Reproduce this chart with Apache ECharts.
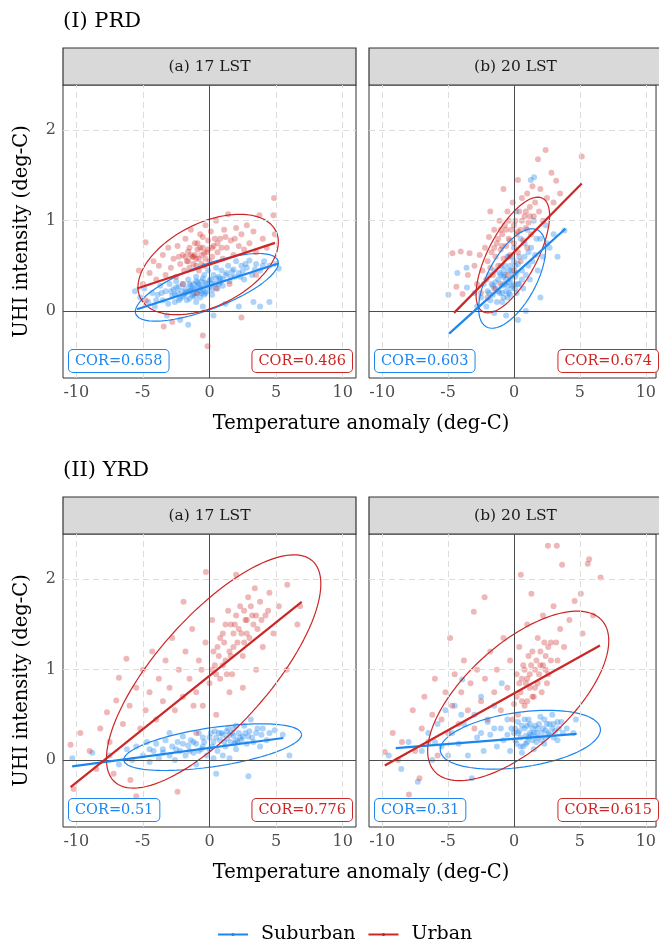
<!DOCTYPE html>
<html>
<head>
<meta charset="utf-8">
<script src="https://cdn.jsdelivr.net/npm/echarts@6/dist/echarts.min.js"></script>
<style>html,body{margin:0;padding:0;background:#fff}#chart{width:659px;height:944px}</style>
</head>
<body>
<div id="chart"></div>
<script>
// axis ticks and panel titles
const xTicks = [-10, -5, 0, 5, 10]
const yTicks = [0, 1, 2]
const sectionTitles = ['(I) PRD', '(II) YRD']
const stripTitles = ['(a) 17 LST', '(b) 20 LST']

// correlation labels [17 LST, 20 LST]
const prdCorSub = [0.658, 0.603]
const prdCorUrb = [0.486, 0.674]
const yrdCorSub = [0.51, 0.31]
const yrdCorUrb = [0.776, 0.615]

// fitted lines, [start, end]
const prd17SubFit = [[-5.44, 0.02], [5.17, 0.526]]
const prd17UrbFit = [[-5.44, 0.25], [4.92, 0.754]]
const prd20SubFit = [[-4.92, -0.25], [3.9, 0.91]]
const prd20UrbFit = [[-4.55, -0.02], [5.14, 1.41]]
const yrd17SubFit = [[-10.31, -0.07], [5.54, 0.244]]
const yrd17UrbFit = [[-10.43, -0.30], [6.92, 1.75]]
const yrd20SubFit = [[-8.97, 0.133], [4.75, 0.29]]
const yrd20UrbFit = [[-9.8, -0.06], [6.52, 1.267]]

// data ellipses: centre x, centre y, half width x, half width y, correlation
const prd17SubEll = [-0.2, 0.263, 5.37, 0.374, 0.72]
const prd17UrbEll = [-0.1, 0.515, 5.27, 0.555, 0.45]
const prd20SubEll = [-0.14, 0.36, 2.54, 0.55, 0.6]
const prd20UrbEll = [-0.09, 0.62, 2.79, 0.64, 0.68]
const yrd17SubEll = [0.24, 0.143, 6.68, 0.258, 0.54]
const yrd17UrbEll = [0.31, 0.98, 8.05, 1.29, 0.75]
const yrd20SubEll = [0.48, 0.225, 6.08, 0.325, 0.34]
const yrd20UrbEll = [0.32, 0.71, 6.87, 0.937, 0.65]

// points [temperature anomaly, UHI intensity]
const prd17Sub = [[-5.6,0.22],[-5.2,0.15],[-4.9,0.25],[-4.6,0.1],[-4.3,0.2],[-4.1,0.05],[-3.9,0.18],[-3.7,0.28],[-3.5,0.12],[-3.3,0.22],[-3.1,0.08],[-3.0,0.3],[-2.8,0.17],[-2.7,0.24],[-2.6,0.1],[-2.5,0.33],[-2.4,0.2],[-2.3,0.27],[-2.2,0.14],[-2.1,0.22],[-2.0,0.3],[-1.9,0.18],[-1.8,0.25],[-1.7,0.12],[-1.6,0.35],[-1.5,0.22],[-1.4,0.28],[-1.3,0.17],[-1.2,0.3],[-1.1,0.24],[-1.0,0.38],[-0.9,0.2],[-0.8,0.29],[-0.7,0.15],[-0.6,0.33],[-0.5,0.25],[-0.4,0.4],[-0.3,0.2],[-0.2,0.3],[-0.1,0.45],[0,0.27],[0.1,0.35],[0.2,0.18],[0.3,0.4],[0.4,0.3],[0.5,0.48],[0.6,0.25],[0.7,0.38],[0.8,0.32],[0.9,0.45],[1.0,0.28],[1.2,0.4],[1.4,0.5],[1.5,0.33],[1.7,0.44],[1.9,0.38],[2.0,0.55],[2.2,0.42],[2.4,0.5],[2.6,0.35],[2.8,0.48],[3.0,0.56],[3.2,0.4],[3.5,0.52],[3.8,0.45],[4.1,0.55],[4.5,0.5],[5.0,0.52],[5.2,0.47],[-2.2,-0.1],[-1.6,-0.15],[0.3,-0.05],[2.2,0.05],[3.8,0.05],[4.5,0.1],[3.3,0.1],[1.2,0.08],[-0.5,0.05],[-3.2,-0.05],[-1.0,0.1],[-1.8,0.2],[-1.4,0.23],[-1.2,0.19],[-0.9,0.27],[-0.7,0.22],[-0.3,0.31],[-2.5,0.26],[-1.5,0.3],[-0.6,0.2],[0.2,0.3],[0.8,0.36],[1.6,0.38],[2.5,0.44],[-2.9,0.22],[-1.0,0.33],[-2.6,0.18],[-2.3,0.12],[-2.0,0.16],[-1.7,0.21],[-1.5,0.14],[-1.3,0.25],[-1.1,0.16],[-0.9,0.32],[-0.6,0.27],[-0.4,0.18],[-0.2,0.22],[0,0.34],[0.2,0.24],[0.5,0.36],[0.7,0.3],[1.0,0.35],[1.3,0.42],[1.8,0.46],[2.3,0.38],[2.7,0.52],[3.4,0.46],[4.0,0.5],[-3.6,0.2],[-4.0,0.12],[-0.5,0.36]]
const prd17Urb = [[-5.3,0.45],[-5.0,0.3],[-4.8,0.76],[-4.5,0.42],[-4.2,0.55],[-4.0,0.35],[-3.8,0.5],[-3.5,0.62],[-3.3,0.4],[-3.1,0.7],[-2.9,0.48],[-2.7,0.58],[-2.5,0.38],[-2.4,0.72],[-2.2,0.52],[-2.0,0.62],[-1.9,0.45],[-1.8,0.8],[-1.7,0.55],[-1.6,0.66],[-1.5,0.48],[-1.4,0.9],[-1.3,0.6],[-1.2,0.52],[-1.1,0.75],[-1.0,0.58],[-0.9,0.68],[-0.8,0.45],[-0.7,0.85],[-0.6,0.62],[-0.5,0.7],[-0.4,0.5],[-0.3,0.95],[-0.2,0.65],[-0.1,0.78],[0,0.55],[0.1,0.88],[0.2,0.6],[0.3,0.72],[0.5,1.0],[0.6,0.65],[0.8,0.8],[1.0,0.58],[1.1,0.9],[1.3,0.7],[1.4,1.07],[1.6,0.78],[1.8,0.62],[2.0,0.92],[2.2,0.72],[2.4,0.85],[2.6,0.68],[2.8,0.95],[3.0,0.75],[3.3,0.88],[3.5,0.65],[3.75,1.06],[4.0,0.8],[4.3,0.7],[4.8,1.06],[4.85,1.25],[4.9,0.85],[-0.15,-0.39],[-0.5,-0.27],[-3.44,-0.17],[2.4,-0.07],[-2.8,-0.12],[-4.8,0.12],[-1.0,0.2],[0.5,0.25],[1.5,0.3],[3.5,0.4],[-2.0,0.3],[-1.6,0.55],[-1.2,0.6],[-0.8,0.58],[-1.0,0.5],[-0.6,0.52],[-1.4,0.62],[-0.3,0.58],[-0.9,0.75],[0.4,0.8],[0.9,0.7],[-1.8,0.6],[-1.5,0.7],[-1.1,0.62],[-0.7,0.7],[-0.4,0.64],[-0.1,0.68],[0.2,0.7],[0.6,0.75],[-2.3,0.6],[-0.5,0.82],[1.2,0.82],[1.9,0.8]]
const prd20Sub = [[-4.98,0.18],[-4.3,0.42],[-3.57,0.26],[-3.6,0.48],[-3.0,0.2],[-2.8,0.05],[-2.5,0.15],[-2.3,0.3],[-2.1,0.05],[-2.0,0.22],[-1.9,0.4],[-1.8,0.12],[-1.7,0.3],[-1.6,0.18],[-1.5,0.45],[-1.4,0.25],[-1.3,0.1],[-1.2,0.35],[-1.1,0.2],[-1.0,0.5],[-0.9,0.28],[-0.8,0.15],[-0.7,0.4],[-0.6,0.22],[-0.5,0.6],[-0.4,0.32],[-0.3,0.18],[-0.2,0.45],[-0.1,0.28],[0,0.7],[0.1,0.38],[0.2,0.2],[0.3,0.52],[0.4,0.3],[0.5,0.8],[0.6,0.45],[0.7,0.25],[0.8,0.6],[0.9,0.4],[1.0,0.9],[1.1,0.5],[1.2,0.35],[1.3,0.7],[1.4,0.55],[1.5,1.0],[1.6,0.62],[1.8,0.45],[2.0,0.8],[2.2,0.6],[2.4,0.95],[2.7,0.7],[3.0,0.85],[3.3,0.6],[3.82,0.89],[1.52,1.48],[1.27,1.45],[0.17,1.1],[-0.6,-0.05],[0.3,-0.1],[-1.5,-0.02],[0.9,0.0],[2.0,0.15],[-0.8,0.38],[-0.4,0.45],[-1.1,0.42],[-0.5,0.15],[-0.2,0.6],[0.0,0.3],[-0.9,0.1],[-0.3,0.35],[-0.7,0.3],[0.1,0.5],[-1.4,0.32],[-1.2,0.22],[-1.0,0.4],[-0.9,0.2],[-0.7,0.5],[-0.6,0.35],[-0.5,0.28],[-0.4,0.2],[-0.3,0.5],[-0.2,0.25],[-0.1,0.4],[0,0.55],[0.1,0.25],[0.2,0.42],[0.4,0.6],[0.6,0.35],[0.8,0.75],[1.1,0.65],[-1.6,0.28],[-1.9,0.2],[-0.8,0.45],[0.3,0.3],[-0.4,0.6],[1.7,0.8],[2.5,0.75]]
const prd20Urb = [[-4.67,0.64],[-4.04,0.66],[-3.37,0.64],[-4.37,0.27],[-3.9,0.19],[-3.5,0.4],[-3.0,0.5],[-2.8,0.3],[-2.6,0.62],[-2.4,0.45],[-2.2,0.7],[-2.1,0.35],[-2.0,0.55],[-1.9,0.82],[-1.8,0.48],[-1.7,0.65],[-1.6,0.4],[-1.5,0.9],[-1.4,0.6],[-1.3,0.75],[-1.2,0.5],[-1.1,1.0],[-1.0,0.68],[-0.9,0.85],[-0.8,0.58],[-0.7,0.95],[-0.6,0.72],[-0.5,1.1],[-0.4,0.8],[-0.3,0.62],[-0.2,0.9],[-0.1,1.2],[0,0.75],[0.1,1.0],[0.2,0.85],[0.3,0.65],[0.4,1.1],[0.5,0.9],[0.6,1.25],[0.7,0.78],[0.8,1.05],[0.9,0.92],[1.0,1.3],[1.1,0.98],[1.2,1.15],[1.3,0.85],[1.4,1.38],[1.5,1.05],[1.6,1.2],[1.82,1.68],[1.9,1.1],[2.0,1.35],[2.2,1.0],[2.4,1.78],[2.5,1.25],[2.84,1.53],[3.0,1.2],[3.2,1.44],[3.5,1.3],[5.14,1.71],[-2.5,0.2],[-1.5,0.25],[-0.5,0.4],[0.5,0.55],[-1.0,0.3],[-2.0,0.15],[0.0,0.45],[1.0,0.7],[-0.8,1.35],[-1.8,1.1],[0.3,1.45],[-1.2,0.8],[-0.9,0.72],[-0.6,0.9],[-0.3,0.78],[0,0.95],[0.3,0.88],[0.6,1.0],[-1.5,0.7],[-0.4,1.0],[0.9,1.1],[1.2,1.05],[-1.0,0.9]]
const yrd17Sub = [[-10.3,0.02],[-8.8,0.08],[-6.8,-0.05],[-7.5,0.05],[-6.2,0.12],[-5.8,0.0],[-5.5,0.15],[-5.0,0.05],[-4.7,0.2],[-4.5,-0.02],[-4.2,0.1],[-4.0,0.18],[-3.8,0.02],[-3.5,0.12],[-3.3,0.22],[-3.0,0.05],[-2.8,0.15],[-2.6,0.0],[-2.4,0.2],[-2.2,0.1],[-2.0,0.26],[-1.8,0.05],[-1.6,0.16],[-1.4,0.22],[-1.2,0.08],[-1.0,0.18],[-0.8,0.3],[-0.6,0.12],[-0.4,0.2],[-0.2,0.05],[0,0.25],[0.2,0.15],[0.4,0.32],[0.5,-0.15],[0.6,0.1],[0.8,0.22],[1.0,0.28],[1.2,0.15],[1.4,0.35],[1.6,0.2],[1.8,0.27],[2.0,0.12],[2.2,0.3],[2.4,0.22],[2.6,0.38],[2.8,0.18],[2.92,-0.18],[3.1,0.45],[3.2,0.25],[3.5,0.3],[3.8,0.15],[4.0,0.35],[4.3,0.22],[4.9,0.33],[5.5,0.28],[6.0,0.05],[1.5,0.02],[-1.0,-0.05],[2.0,0.38],[1.0,0.05],[0.3,0.02],[-3.0,0.3],[1.7,0.3],[2.5,0.26],[0.9,0.3],[3.0,0.32],[-0.5,0.25],[1.3,0.24],[2.1,0.2],[0.1,0.3],[-2.5,0.12],[-1.5,0.1],[-0.5,0.15],[0.3,0.2],[0.7,0.3],[1.1,0.2],[1.5,0.28],[1.9,0.18],[2.3,0.25],[2.7,0.3],[3.3,0.2],[3.6,0.35],[0.5,0.25],[1.3,0.32],[2.9,0.26],[-1.2,0.2],[-3.5,0.08],[-4.5,0.12],[0,0.12],[2.0,0.22],[4.5,0.3],[1.8,0.35],[3.9,0.28],[-2.0,0.18],[-0.8,0.1]]
const yrd17Urb = [[-10.43,0.17],[-9.7,0.3],[-10.2,-0.32],[-9.0,0.1],[-8.2,0.35],[-8.5,-0.1],[-7.7,0.53],[-7.5,0.2],[-7.0,0.66],[-7.2,-0.15],[-6.8,0.91],[-6.5,0.4],[-6.24,1.12],[-6.0,0.6],[-5.94,-0.22],[-5.5,-0.4],[-5.5,0.8],[-5.2,0.35],[-5.0,1.0],[-4.8,0.55],[-4.5,0.75],[-4.3,1.2],[-4.0,0.45],[-3.8,0.9],[-3.5,0.65],[-3.3,1.1],[-3.0,0.8],[-2.8,1.35],[-2.6,0.55],[-2.4,-0.35],[-2.3,1.0],[-2.0,0.7],[-1.95,1.75],[-1.8,1.2],[-1.5,0.9],[-1.3,1.45],[-1.0,0.75],[-0.8,1.1],[-0.5,0.6],[-0.27,2.08],[-0.3,1.3],[0,0.85],[0.2,1.55],[0.4,1.05],[0.6,1.25],[0.8,0.9],[1.0,1.4],[1.2,1.1],[1.4,1.65],[1.5,1.2],[1.7,0.95],[1.9,1.5],[2.0,2.05],[2.1,1.3],[2.3,1.7],[2.5,1.15],[2.7,1.55],[2.9,1.8],[3.0,1.35],[3.2,1.6],[3.4,1.9],[3.6,1.45],[3.8,1.75],[4.0,1.25],[4.2,1.6],[4.5,1.85],[4.8,1.4],[5.2,1.7],[5.84,1.94],[5.8,1.0],[6.6,1.5],[6.8,1.7],[0.5,0.5],[1.5,0.75],[-1.0,0.3],[2.5,0.8],[3.5,1.0],[0.2,1.0],[1.1,1.3],[2.2,1.45],[2.8,1.4],[1.6,1.5],[0.7,1.15],[3.3,1.5],[1.3,0.95],[-0.6,1.0],[-1.2,0.6],[2.6,1.65],[1.8,1.25],[0.3,1.2],[0.8,1.35],[1.2,1.5],[1.6,1.15],[2.0,1.6],[2.4,1.4],[2.8,1.55],[3.1,1.7],[3.5,1.6],[1.0,1.05],[1.8,1.4],[2.6,1.3],[0.5,0.95],[3.9,1.55],[4.4,1.65]]
const yrd20Sub = [[-9.5,0.05],[-8.55,-0.1],[-8.0,0.2],[-7.3,-0.24],[-7.0,0.1],[-6.5,0.3],[-6.2,0.0],[-5.8,0.4],[-5.5,0.15],[-5.2,0.55],[-5.0,0.05],[-4.7,0.3],[-4.5,0.6],[-4.2,0.18],[-3.93,0.89],[-3.8,0.4],[-3.5,0.05],[-3.2,-0.2],[-3.0,0.5],[-2.8,0.25],[-2.5,0.7],[-2.3,0.1],[-2.0,0.42],[-1.8,0.28],[-1.5,0.6],[-1.3,0.15],[-1.0,0.35],[-0.93,0.85],[-0.8,0.22],[-0.5,0.45],[-0.3,0.1],[0,0.3],[0.2,0.18],[0.3,0.42],[0.5,0.25],[0.6,0.08],[0.8,0.35],[1.0,0.2],[1.1,0.45],[1.3,0.28],[1.5,0.12],[1.6,0.38],[1.8,0.25],[2.0,0.48],[2.1,0.3],[2.3,0.18],[2.5,0.4],[2.7,0.28],[2.9,0.5],[3.1,0.32],[3.3,0.22],[3.6,0.42],[4.0,0.35],[4.5,0.3],[4.7,0.45],[1.2,0.3],[0.4,0.32],[1.7,0.3],[2.2,0.35],[0.9,0.27],[2.6,0.3],[1.4,0.22],[0.1,0.22],[3.0,0.4],[-0.2,0.35],[0.7,0.15],[1.9,0.4],[2.4,0.25],[3.4,0.35],[1.0,0.38],[0.3,0.3],[0.6,0.38],[0.9,0.18],[1.2,0.4],[1.5,0.3],[1.8,0.35],[2.1,0.22],[2.4,0.33],[2.7,0.4],[3.0,0.25],[3.3,0.42],[0.1,0.35],[0.5,0.15],[1.1,0.25],[1.7,0.2],[2.3,0.45],[2.9,0.35],[3.7,0.3],[0.8,0.45],[1.4,0.35],[-0.5,0.28],[-1.5,0.35],[-2.5,0.3],[-4.0,0.5],[-6.0,0.2]]
const yrd20Urb = [[-9.8,0.09],[-9.2,0.3],[-8.8,0.0],[-8.5,0.2],[-7.97,-0.38],[-7.68,0.55],[-7.5,0.1],[-7.17,-0.2],[-7.0,0.35],[-6.8,0.7],[-6.5,0.2],[-6.2,0.5],[-6.0,0.9],[-5.8,0.05],[-5.5,0.45],[-5.2,0.75],[-5.0,0.3],[-4.85,1.35],[-4.7,0.6],[-4.5,0.95],[-4.2,0.4],[-4.0,0.75],[-3.8,1.1],[-3.5,0.55],[-3.3,0.85],[-3.05,1.64],[-3.0,0.35],[-2.8,1.0],[-2.5,0.65],[-2.23,1.8],[-2.2,0.9],[-2.0,0.45],[-1.8,1.2],[-1.5,0.75],[-1.3,1.0],[-1.0,0.55],[-0.8,1.35],[-0.5,0.8],[-0.3,1.1],[0,0.62],[0.2,0.95],[0.4,1.25],[0.52,2.05],[0.5,0.75],[0.7,1.05],[0.9,0.85],[1.0,1.5],[1.2,0.95],[1.32,1.84],[1.4,1.2],[1.6,0.8],[1.8,1.35],[2.0,1.05],[2.2,1.6],[2.4,1.15],[2.57,2.37],[2.6,0.95],[2.8,1.3],[3.0,1.7],[3.25,2.37],[3.3,1.1],[3.5,1.45],[3.65,2.16],[3.8,1.25],[4.2,1.55],[4.6,1.76],[5.07,1.84],[5.2,1.4],[5.6,2.17],[5.7,2.22],[6.0,1.6],[6.57,2.02],[0.8,0.6],[1.5,0.7],[2.5,0.85],[0.3,0.5],[1.1,1.15],[1.9,0.95],[2.3,1.3],[1.3,1.05],[0.6,0.9],[1.7,1.1],[2.1,0.75],[-0.1,0.45],[1.0,0.65],[0.4,0.85],[0.8,1.0],[1.2,0.8],[1.6,1.0],[2.0,1.2],[2.4,1.0],[2.8,1.1],[0.2,0.7],[1.0,0.9],[1.8,0.85],[2.6,1.25],[3.2,1.3],[1.4,0.7],[0.6,0.65],[2.2,1.05]]

const FONT = 'DejaVu Serif'
const BLUE = '#1C86EE'
const RED = '#CD2626'

// panel boxes: left, top, width, height
const boxes = [[63, 85, 293, 293], [369, 85, 290, 293], [63, 534, 293, 293], [369, 534, 290, 293]]

const panels = [
	{ sub: prd17Sub, urb: prd17Urb, subFit: prd17SubFit, urbFit: prd17UrbFit, subEll: prd17SubEll, urbEll: prd17UrbEll, corSub: prdCorSub[0], corUrb: prdCorUrb[0] },
	{ sub: prd20Sub, urb: prd20Urb, subFit: prd20SubFit, urbFit: prd20UrbFit, subEll: prd20SubEll, urbEll: prd20UrbEll, corSub: prdCorSub[1], corUrb: prdCorUrb[1] },
	{ sub: yrd17Sub, urb: yrd17Urb, subFit: yrd17SubFit, urbFit: yrd17UrbFit, subEll: yrd17SubEll, urbEll: yrd17UrbEll, corSub: yrdCorSub[0], corUrb: yrdCorUrb[0] },
	{ sub: yrd20Sub, urb: yrd20Urb, subFit: yrd20SubFit, urbFit: yrd20UrbFit, subEll: yrd20SubEll, urbEll: yrd20UrbEll, corSub: yrdCorSub[1], corUrb: yrdCorUrb[1] }
]

//stat_ellipse style outline from centre, spread and correlation
function ellipse(p) {
	const [cx, cy, sx, sy, r] = p
	const pts = []
	for (let i = 0; i <= 120; i++) {
		const t = i / 120 * 2 * Math.PI
		pts.push([cx + sx * Math.cos(t), cy + sy * (r * Math.cos(t) + Math.sqrt(1 - r * r) * Math.sin(t))])
	}
	return pts
}

const grids = [], xAxes = [], yAxes = [], series = [], graphics = []

boxes.forEach((b, i) => {
	const isLeft = i % 2 === 0
	grids.push({ left: b[0], top: b[1], width: b[2], height: b[3], show: true, borderColor: '#333', borderWidth: 1, backgroundColor: 'transparent' })
	xAxes.push({
		gridIndex: i, type: 'value', min: -11, max: -11 + b[2] * 22 / 293,
		axisLine: { show: false },
		axisTick: { show: true, customValues: xTicks, length: 4, lineStyle: { color: '#333' } },
		axisLabel: { customValues: xTicks, color: '#4d4d4d', fontSize: 16, fontFamily: FONT, margin: 7 },
		splitLine: { show: false }
	})
	yAxes.push({
		gridIndex: i, type: 'value', min: -0.74, max: 2.5,
		axisLine: { show: false },
		axisTick: { show: isLeft, customValues: yTicks, length: 4, lineStyle: { color: '#333' } },
		axisLabel: { show: isLeft, customValues: yTicks, color: '#4d4d4d', fontSize: 16, fontFamily: FONT, margin: 7 },
		splitLine: { show: false },
		name: isLeft ? 'UHI intensity (deg-C)' : '',
		nameLocation: 'middle', nameRotate: 90, nameGap: 31,
		nameTextStyle: { fontSize: 19.5, fontFamily: FONT, color: '#000' }
	})

	const p = panels[i]
	// dashed grid
	series.push({
		type: 'line', xAxisIndex: i, yAxisIndex: i, data: [], z: 1,
		markLine: {
			silent: true, symbol: ['none', 'none'], label: { show: false },
			lineStyle: { type: [6, 4], color: '#dcdcdc', width: 1 },
			data: xTicks.filter(v => v !== 0).map(v => ({ xAxis: v })).concat(yTicks.filter(v => v !== 0).map(v => ({ yAxis: v })))
		}
	})
	// zero lines
	series.push({
		type: 'line', xAxisIndex: i, yAxisIndex: i, data: [], z: 2,
		markLine: {
			silent: true, symbol: ['none', 'none'], label: { show: false },
			lineStyle: { type: 'solid', color: '#4d4d4d', width: 1 },
			data: [{ xAxis: 0 }, { yAxis: 0 }]
		}
	})
	series.push({ name: 'Suburban pts', type: 'scatter', xAxisIndex: i, yAxisIndex: i, data: p.sub, symbolSize: 6, z: 3, itemStyle: { color: BLUE, opacity: 0.36 } })
	series.push({ name: 'Urban pts', type: 'scatter', xAxisIndex: i, yAxisIndex: i, data: p.urb, symbolSize: 6, z: 3, itemStyle: { color: RED, opacity: 0.33 } })
	series.push({ name: 'Suburban ell', type: 'line', xAxisIndex: i, yAxisIndex: i, data: ellipse(p.subEll), showSymbol: false, symbol: 'none', z: 4, lineStyle: { color: BLUE, width: 1.2 } })
	series.push({ name: 'Urban ell', type: 'line', xAxisIndex: i, yAxisIndex: i, data: ellipse(p.urbEll), showSymbol: false, symbol: 'none', z: 4, lineStyle: { color: RED, width: 1.2 } })
	series.push({ name: 'Suburban', type: 'line', xAxisIndex: i, yAxisIndex: i, data: p.subFit, showSymbol: false, symbol: 'circle', symbolSize: 3, z: 5, color: BLUE, lineStyle: { color: BLUE, width: 2.2 } })
	series.push({ name: 'Urban', type: 'line', xAxisIndex: i, yAxisIndex: i, data: p.urbFit, showSymbol: false, symbol: 'circle', symbolSize: 3, z: 5, color: RED, lineStyle: { color: RED, width: 2.2 } })

	// strip on top of each panel
	const stripW = isLeft ? b[2] : b[2] + 4
	graphics.push({ type: 'rect', shape: { x: b[0], y: b[1] - 37, width: stripW, height: 37 }, style: { fill: '#d9d9d9', stroke: '#333', lineWidth: 1.2 } })
	graphics.push({ type: 'text', x: b[0] + 293 / 2, y: b[1] - 18.5, style: { text: stripTitles[i % 2], font: '15.5px "' + FONT + '"', fill: '#1a1a1a', align: 'center', verticalAlign: 'middle' } })

	// COR labels
	const boxStyle = { font: '14.5px "' + FONT + '"', backgroundColor: '#fff', borderWidth: 1, borderRadius: 4, padding: [4, 6, 3, 6], verticalAlign: 'middle' }
	const cy = b[1] + b[3] - 17
	graphics.push({ type: 'text', z: 10, x: b[0] + 6, y: cy, style: Object.assign({}, boxStyle, { text: 'COR=' + p.corSub, fill: BLUE, borderColor: BLUE, align: 'left' }) })
	graphics.push({ type: 'text', z: 10, x: b[0] + 289, y: cy, style: Object.assign({}, boxStyle, { text: 'COR=' + p.corUrb, fill: RED, borderColor: RED, align: 'right' }) })
})

// section titles and x axis titles
sectionTitles.forEach((t, k) => {
	const top = boxes[k * 2][1]
	graphics.push({ type: 'text', x: 63, y: top - 63, style: { text: t, font: '21px "' + FONT + '"', fill: '#000', verticalAlign: 'middle' } })
	graphics.push({ type: 'text', x: 361, y: top + 339, style: { text: 'Temperature anomaly (deg-C)', font: '19.5px "' + FONT + '"', fill: '#000', align: 'center', verticalAlign: 'middle' } })
})

const myChart = echarts.init(document.getElementById('chart'))
myChart.setOption({
	animation: false,
	backgroundColor: '#fff',
	grid: grids,
	xAxis: xAxes,
	yAxis: yAxes,
	legend: {
		data: ['Suburban', 'Urban'],
		top: 920, left: 212,
		itemWidth: 30, itemHeight: 4, itemGap: 12,
		textStyle: { fontSize: 19, fontFamily: FONT, color: '#000', padding: [0, 0, 0, 8] }
	},
	graphic: graphics,
	series: series
})
</script>
</body>
</html>
